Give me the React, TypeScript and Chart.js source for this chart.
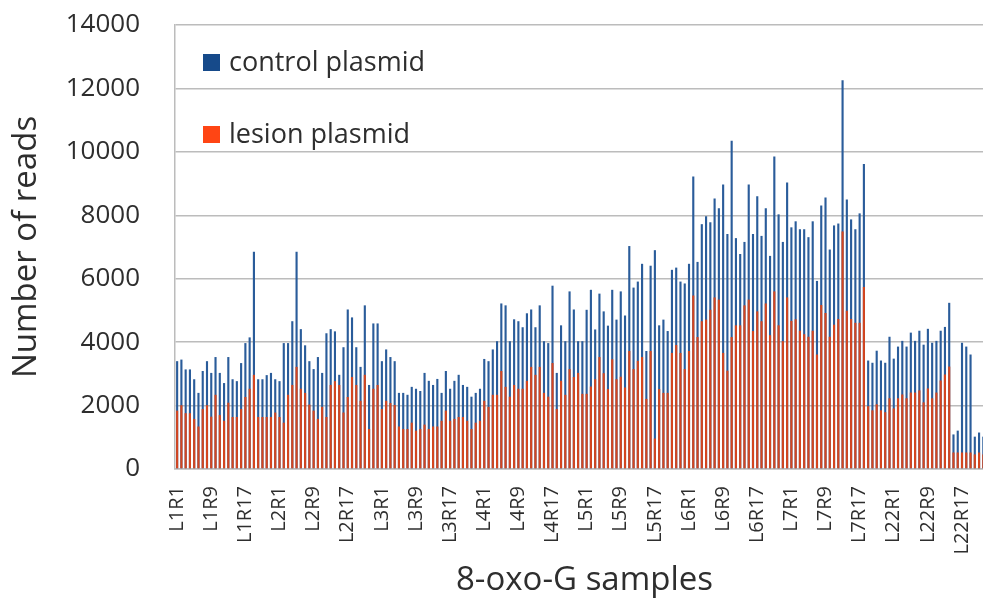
import React, { useEffect, useRef } from 'react';
import { Chart, registerables } from 'chart.js';

Chart.register(...registerables);

// ---- data ----
const libraries = ['L1', 'L2', 'L3', 'L4', 'L5', 'L6', 'L7', 'L22'];
const samplesPerLibrary = 24;
const categories: string[] = libraries.flatMap((lib) =>
  Array.from({ length: samplesPerLibrary }, (_, i) => `${lib}R${i + 1}`)
);
const labelEvery = 8;

const controlPlasmid = [
  // L1
  3400, 3450, 3140, 3140, 2830, 2400, 3090, 3400, 3030, 3530, 3030, 2710,
  3530, 2830, 2770, 3340, 3970, 4150, 6850, 2830, 2830, 2960, 3030, 2830,
  // L2
  2770, 3970, 3970, 4660, 6850, 4410, 3900, 3400, 3150, 3530, 3030, 4280,
  4410, 4340, 2970, 3840, 5030, 4780, 3840, 3220, 5160, 2650, 4590, 4590,
  // L3
  3400, 3770, 3530, 3400, 2400, 2400, 2340, 2590, 2530, 2460, 3030, 2780,
  2650, 2840, 2400, 3090, 2530, 2780, 2970, 2650, 2590, 2280, 2400, 2530,
  // L4
  3470, 3400, 3770, 4030, 5220, 5160, 4030, 4720, 4660, 4470, 4910, 5030,
  4470, 5160, 4030, 3970, 5780, 3030, 4530, 4030, 5600, 5030, 4030, 4030,
  // L5
  5020, 5650, 4400, 5530, 4970, 4520, 5650, 4710, 5600, 4840, 7030, 5720,
  5910, 6470, 3720, 6410, 6900, 4530, 4710, 4350, 6280, 6350, 5910, 5850,
  // L6
  6470, 9220, 6530, 7720, 7970, 7780, 8530, 8220, 8970, 7410, 10350, 7280,
  6780, 7160, 8970, 7410, 8600, 7350, 8220, 6720, 9850, 8030, 7160, 9030,
  // L7
  7620, 7810, 7560, 7560, 7310, 7810, 5930, 8310, 8560, 6920, 7680, 7740,
  12260, 8500, 7870, 7560, 8060, 9620, 3420, 3350, 3730, 3420, 3350, 4170,
  // L22
  3480, 3860, 4040, 3860, 4300, 4040, 4360, 3920, 4420, 3980, 4040, 4360,
  4480, 5240, 1090, 1210, 3980, 3860, 3610, 1020, 1150, 1020, 1000, 1100,
];

const lesionPlasmid = [
  // L1
  1840, 2010, 1760, 1760, 1580, 1340, 1890, 2010, 1650, 2340, 1700, 1520,
  2090, 1640, 1640, 1890, 2270, 2530, 2970, 1640, 1640, 1640, 1640, 1780,
  // L2
  1640, 1460, 2340, 2650, 3220, 2530, 2400, 2030, 1840, 1580, 1960, 1640,
  2650, 2770, 2650, 1780, 2270, 2900, 2650, 2150, 2970, 1260, 2530, 2650,
  // L3
  1890, 2150, 2080, 2020, 1340, 1260, 1260, 1460, 1210, 1260, 1400, 1260,
  1340, 1340, 1520, 1840, 1520, 1580, 1640, 1640, 1520, 1260, 1460, 1520,
  // L4
  2150, 1960, 2340, 2340, 3090, 2590, 2280, 2650, 2530, 2530, 2780, 3220,
  2970, 3220, 2400, 2280, 3340, 1890, 2780, 2340, 3150, 2900, 3030, 2370,
  // L5
  2370, 2600, 2830, 3530, 3020, 2520, 3460, 2830, 2910, 2570, 3720, 3150,
  3410, 3530, 2210, 3720, 960, 2520, 2400, 2400, 3660, 3910, 3660, 3150,
  // L6
  3720, 5470, 4160, 4660, 4710, 5020, 5410, 5340, 3660, 3100, 4160, 4530,
  4530, 5160, 5340, 4350, 4970, 4660, 5220, 4220, 5600, 4530, 4030, 5410,
  // L7
  4670, 4720, 4360, 4250, 4170, 4360, 3610, 5170, 4920, 4170, 4550, 4730,
  7490, 4990, 4730, 4610, 4610, 5740, 1980, 1850, 2040, 1850, 1790, 2230,
  // L22
  1910, 2230, 2350, 2230, 2410, 2410, 2480, 2100, 2540, 2230, 2410, 2790,
  2980, 3230, 520, 520, 520, 520, 520, 460, 520, 460, 470, 500,
];

const yMin = 0;
const yMax = 14000;
const yStep = 2000;

const seriesNames = ['control plasmid', 'lesion plasmid'];
const barColors = ['#2a5c9a', '#d4451f'];
const legendColors = ['#164a8a', '#ff4514'];

// ---- styles ----
const FONT = "'Open Sans', sans-serif";
const TEXT = '#2e2e2e';
const GRID = '#bcbcbc';

const insideLegend = {
  id: 'insideLegend',
  afterDraw(chart: any) {
    const { ctx, chartArea } = chart;
    ctx.save();
    ctx.font = `27px ${FONT}`;
    ctx.textBaseline = 'middle';
    ctx.textAlign = 'left';
    chart.data.datasets.forEach((ds: any, i: number) => {
      const cy = chartArea.top + 37.5 + i * 72;
      ctx.fillStyle = legendColors[i];
      ctx.fillRect(chartArea.left + 28, cy - 8.5, 17, 17);
      ctx.fillStyle = TEXT;
      ctx.fillText(ds.label, chartArea.left + 54, cy + 1);
    });
    ctx.restore();
  },
};

export default function App() {
  const canvasRef = useRef<HTMLCanvasElement | null>(null);

  useEffect(() => {
    const canvas = canvasRef.current;
    if (!canvas) return;
    const chart = new Chart(canvas, {
      type: 'bar',
      data: {
        labels: categories,
        datasets: [
          {
            label: seriesNames[0],
            data: controlPlasmid,
            backgroundColor: barColors[0],
            order: 1,
            grouped: false,
            barPercentage: 0.5,
            categoryPercentage: 1,
          },
          {
            label: seriesNames[1],
            data: lesionPlasmid,
            backgroundColor: barColors[1],
            order: 0,
            grouped: false,
            barPercentage: 0.5,
            categoryPercentage: 1,
          },
        ],
      },
      options: {
        responsive: false,
        animation: false,
        devicePixelRatio: 1,
        layout: { padding: { top: 25, right: 6, bottom: 0, left: 0 } },
        plugins: {
          legend: { display: false },
          tooltip: { enabled: false },
        },
        scales: {
          x: {
            grid: { display: false, drawTicks: false },
            border: { display: true, color: GRID, width: 1.5 },
            ticks: {
              autoSkip: false,
              maxRotation: 90,
              minRotation: 90,
              padding: 17,
              color: TEXT,
              font: { family: FONT, size: 20 },
              callback: (_v: any, i: number) => (i % labelEvery === 0 ? categories[i] : null),
            },
            title: {
              display: true,
              text: '8-oxo-G samples',
              color: TEXT,
              font: { family: FONT, size: 33 },
              padding: { top: 0, bottom: 2 },
            },
            afterFit: (s: any) => {
              s.height = 133;
              s.paddingLeft = 0;
              s.paddingRight = 0;
            },
          },
          y: {
            min: yMin,
            max: yMax,
            grid: { color: GRID, lineWidth: 1.5, drawTicks: false },
            border: { display: true, color: GRID, width: 1.5 },
            ticks: {
              stepSize: yStep,
              padding: 35,
              color: TEXT,
              font: { family: FONT, size: 26 },
              callback: (v: any) => String(v),
            },
            title: {
              display: true,
              text: 'Number of reads',
              color: TEXT,
              font: { family: FONT, size: 33 },
              padding: { top: 7, bottom: 0 },
            },
            afterFit: (s: any) => {
              s.width = 175;
              s.paddingTop = 0;
              s.paddingBottom = 0;
            },
          },
        },
      },
      plugins: [insideLegend],
    });
    return () => chart.destroy();
  }, []);

  return (
    <div
      style={{
        position: 'fixed',
        left: 0,
        top: 0,
        width: 983,
        height: 602,
        overflow: 'hidden',
        background: '#ffffff',
      }}
    >
      <canvas ref={canvasRef} width={1000} height={602} style={{ display: 'block' }} />
    </div>
  );
}
